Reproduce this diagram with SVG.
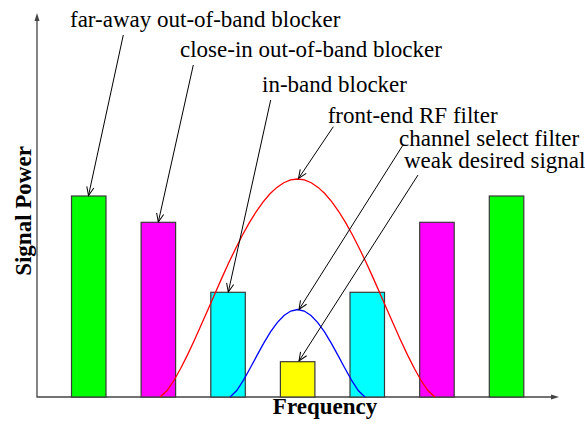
<svg xmlns="http://www.w3.org/2000/svg" width="585" height="427" viewBox="0 0 585 427">
  <style>
    .lbl { font-family: 'Liberation Serif', 'DejaVu Serif', serif; font-size: 23px; fill: #000; }
    .axlbl { font-family: 'Liberation Serif', 'DejaVu Serif', serif; font-size: 23px; font-weight: bold; fill: #000; }
    .bar { stroke: #3a3a3a; stroke-width: 1.2; }
    .axis { stroke: #444; stroke-width: 1.3; fill: none; }
    .ptr { stroke: #000; stroke-width: 1; fill: none; marker-end: url(#open); }
    .curve { fill: none; stroke-width: 1.3; }
  </style>
  <defs>
    <marker id="open" markerUnits="userSpaceOnUse" markerWidth="12" markerHeight="10" viewBox="-10 -5 12 10" refX="0" refY="0" orient="auto">
      <path d="M-8.5,-3.6 L0,0 L-8.5,3.6" fill="none" stroke="#000" stroke-width="1"/>
    </marker>
  </defs>

  <!-- axes -->
  <g id="axes">
    <path class="axis" d="M37,20 L37,397 L552,397"/>
    <path d="M37,13 L34.5,21 L39.5,21 Z" fill="#444"/>
    <path d="M559,397 L551,394.5 L551,399.5 Z" fill="#444"/>
  </g>

  <!-- spectrum bars -->
  <g id="bar-far-left"><rect class="bar" x="71.5" y="196" width="34.5" height="201" fill="#00ff00"/></g>
  <g id="bar-close-left"><rect class="bar" x="141.1" y="222.3" width="34.5" height="174.7" fill="#ff00ff"/></g>
  <g id="bar-inband-left"><rect class="bar" x="210.8" y="292.3" width="34.5" height="104.7" fill="#00ffff"/></g>
  <g id="bar-desired"><rect class="bar" x="280.4" y="361.7" width="34.5" height="35.3" fill="#ffff00"/></g>
  <g id="bar-inband-right"><rect class="bar" x="350" y="292.3" width="34.5" height="104.7" fill="#00ffff"/></g>
  <g id="bar-close-right"><rect class="bar" x="419.7" y="222.3" width="34.5" height="174.7" fill="#ff00ff"/></g>
  <g id="bar-far-right"><rect class="bar" x="489.3" y="196" width="34.5" height="201" fill="#00ff00"/></g>

  <!-- filter responses -->
  <g id="rf-filter">
    <path class="curve" stroke="#ff0000" d="M160,397 L166.875,390.82 L173.75,380.77 L180.625,368.56 L187.5,354.89 L194.375,340.19 L201.25,324.84 L208.125,309.14 L215,293.4 L221.875,277.87 L228.75,262.81 L235.625,248.43 L242.5,234.97 L249.375,222.61 L256.25,211.52 L263.125,201.87 L270,193.79 L276.875,187.39 L283.75,182.75 L290.625,179.94 L297.5,179 L304.375,179.94 L311.25,182.75 L318.125,187.39 L325,193.79 L331.875,201.87 L338.75,211.52 L345.625,222.61 L352.5,234.97 L359.375,248.43 L366.25,262.81 L373.125,277.87 L380,293.4 L386.875,309.14 L393.75,324.84 L400.625,340.19 L407.5,354.89 L414.375,368.56 L421.25,380.77 L428.125,390.82 L435,397"/>
  </g>
  <g id="channel-filter">
    <path class="curve" stroke="#0000ff" d="M230,397 L236.75,390.48 L243.5,380.1 L250.25,368.03 L257,355.42 L263.75,343.14 L270.5,331.96 L277.25,322.55 L284,315.44 L290.75,311 L297.5,309.5 L304.25,311 L311,315.44 L317.75,322.55 L324.5,331.96 L331.25,343.14 L338,355.42 L344.75,368.03 L351.5,380.1 L358.25,390.48 L365,397"/>
  </g>

  <!-- labels -->
  <g id="label-far"><text class="lbl" font-family="Liberation Serif, serif" x="70" y="27">far-away out-of-band blocker</text></g>
  <g id="label-close"><text class="lbl" font-family="Liberation Serif, serif" x="180" y="57">close-in out-of-band blocker</text></g>
  <g id="label-inband"><text class="lbl" font-family="Liberation Serif, serif" x="262" y="92">in-band blocker</text></g>
  <g id="label-rf"><text class="lbl" font-family="Liberation Serif, serif" x="327.7" y="123">front-end RF filter</text></g>
  <g id="label-chan"><text class="lbl" font-family="Liberation Serif, serif" x="399" y="146">channel select filter</text></g>
  <g id="label-weak"><text class="lbl" font-family="Liberation Serif, serif" x="404" y="168">weak desired signal</text></g>
  <g id="label-y"><text class="axlbl" font-family="Liberation Serif, serif" transform="translate(31,211) rotate(-90)" text-anchor="middle">Signal Power</text></g>
  <g id="label-x"><text class="axlbl" font-family="Liberation Serif, serif" x="325" y="414" text-anchor="middle">Frequency</text></g>

  <!-- pointers -->
  <g id="connectors">
    <line class="ptr" x1="123.3" y1="35" x2="88.5" y2="195.5"/>
    <line class="ptr" x1="193.3" y1="65" x2="158.3" y2="222"/>
    <line class="ptr" x1="270.7" y1="100" x2="228.3" y2="292"/>
    <line class="ptr" x1="333.3" y1="126.7" x2="298.5" y2="178.5"/>
    <line class="ptr" x1="403" y1="145" x2="299" y2="309.5"/>
    <line class="ptr" x1="418" y1="175" x2="299" y2="361"/>
  </g>
</svg>
